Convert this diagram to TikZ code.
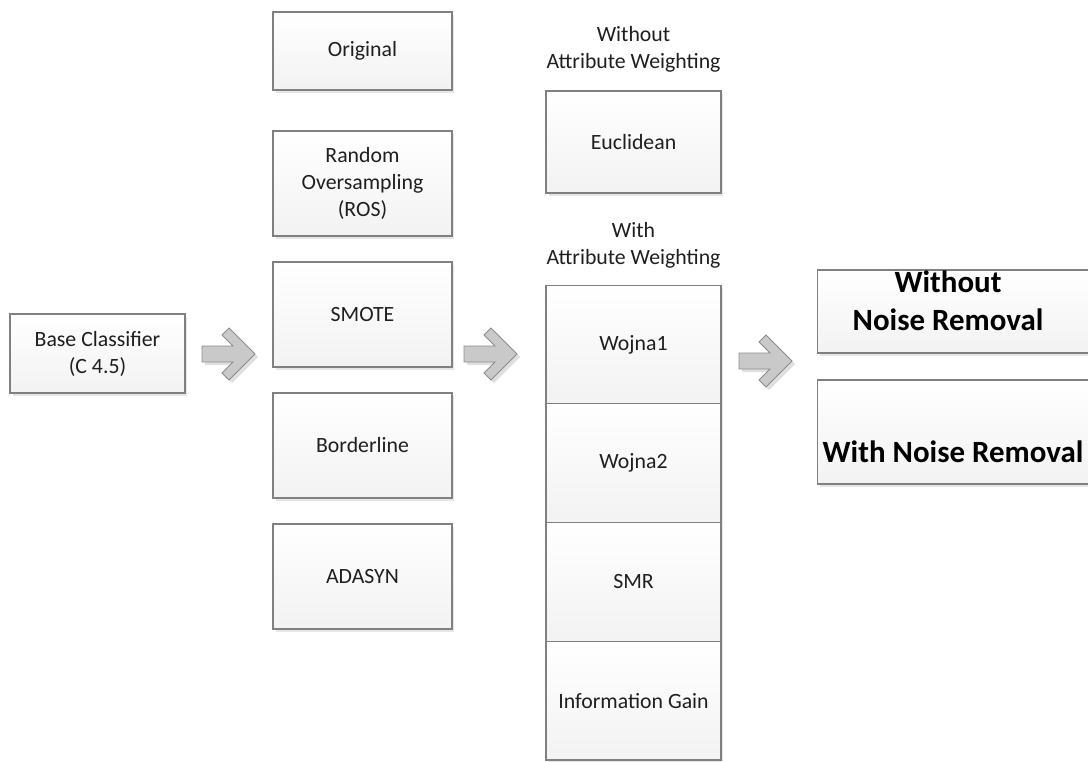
\documentclass[tikz,border=0pt]{standalone}
\usepackage{fontspec}
\setmainfont{Carlito}
\usetikzlibrary{shadows}

\tikzset{
	kasten/.style={draw=black!50, line width=0.6pt, top color=white, bottom color=black!5,
		minimum width=3.5cm, minimum height=2.1cm, inner sep=0pt, align=center,
		font=\fontsize{12.4}{15.3}\selectfont, text=black!88,
		drop shadow={shadow xshift=0.05cm, shadow yshift=-0.06cm, fill=black!12, opacity=0.8}},
	titel/.style={align=center, font=\fontsize{12.4}{15.3}\selectfont, text=black!88},
	gross/.style={align=center, font=\fontsize{17.6}{21.5}\selectfont\bfseries, text=black},
	pfeil/.pic={
		\fill[black!12, shift={(3,3)}] (-27,-8) -- (4,-8) -- (-7,-19) -- (0,-26) -- (26,0)
			-- (0,26) -- (-7,19) -- (4,8) -- (-27,8) -- cycle;
		\draw[draw=black!45, fill=black!21, line width=0.5pt] (-27,-8) -- (4,-8) -- (-7,-19)
			-- (0,-26) -- (26,0) -- (0,26) -- (-7,19) -- (4,8) -- (-27,8) -- cycle;
	}
}

\begin{document}
\begin{tikzpicture}[x=0.02cm, y=-0.02cm]
	\useasboundingbox (0,0) rectangle (1088,761); % Rand wie Vorlage
	\clip (0,0) rectangle (1088,761);

	% Klassifikator
	\node[kasten, minimum height=1.58cm] (base) at (97.5,353.5) {Base Classifier\\(C 4.5)};

	% Sampling
	\node[kasten, minimum width=3.58cm, minimum height=1.56cm] (orig) at (362.5,51) {Original};
	\node[kasten, minimum width=3.58cm] (ros) at (362.5,183.5) {Random\\Oversampling\\(ROS)};
	\node[kasten, minimum width=3.58cm] (smote) at (362.5,314.5) {SMOTE};
	\node[kasten, minimum width=3.58cm] (border) at (362.5,445.5) {Borderline};
	\node[kasten, minimum width=3.58cm] (adasyn) at (362.5,576.5) {ADASYN};

	% Distanz
	\node[titel] (ohnegew) at (633.5,49) {Without\\Attribute Weighting};
	\node[kasten, minimum height=2.04cm] (eucl) at (633.5,142) {Euclidean};
	\node[titel] (mitgew) at (633.5,245) {With\\Attribute Weighting};
	\node[kasten, minimum height=2.375cm] (wojna1) at (633.5,344.4) {Wojna1};
	\node[kasten, minimum height=2.375cm] (wojna2) at (633.5,463.1) {Wojna2};
	\node[kasten, minimum height=2.375cm] (smr) at (633.5,581.9) {SMR};
	\node[kasten, minimum height=2.375cm] (infogain) at (633.5,700.6) {Information Gain};

	% Rauschen
	\node[kasten, minimum width=5.86cm, minimum height=1.66cm] (ohnerausch) at (963.5,311.5) {};
	\node[gross] (ohnetext) at (948,301) {Without\\Noise Removal};
	\node[kasten, minimum width=5.86cm, minimum height=2.08cm] (mitrausch) at (963.5,432) {};
	\node[gross] (mittext) at (953,452) {With Noise Removal};

	% Pfeile
	\pic at (229,354) {pfeil};
	\pic at (491,354) {pfeil};
	\pic at (766,361) {pfeil};

	%\draw[help lines, step=50] (0,0) grid (1088,761);
\end{tikzpicture}
\end{document}
